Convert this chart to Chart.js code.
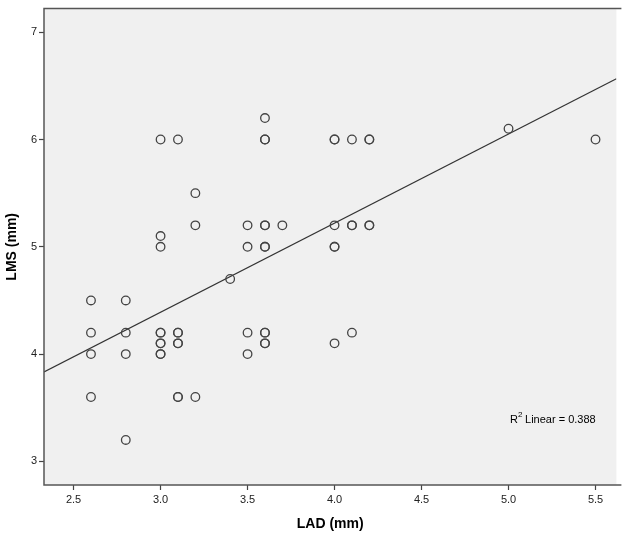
<!DOCTYPE html>
<html>
<head>
<meta charset="utf-8">
<script src="https://cdn.jsdelivr.net/npm/chart.js@4"></script>
<style>
  html, body { margin: 0; padding: 0; background: #fff; }
  canvas { display: block; }
</style>
</head>
<body>
<canvas id="grafico" width="622" height="537"></canvas>
<script>
// Dados (LAD x LMS)
const ladValores = [
  2.6, 2.6, 2.6, 2.6,
  2.8, 2.8, 2.8, 2.8,
  3.0, 3.0, 3.0, 3.0, 3.0, 3.0, 3.0, 3.0, 3.0,
  3.1, 3.1, 3.1, 3.1, 3.1, 3.1, 3.1,
  3.2, 3.2, 3.2,
  3.4,
  3.5, 3.5, 3.5, 3.5,
  3.6, 3.6, 3.6, 3.6, 3.6, 3.6, 3.6, 3.6, 3.6, 3.6, 3.6,
  3.7,
  4.0, 4.0, 4.0, 4.0, 4.0, 4.0,
  4.1, 4.1, 4.1, 4.1,
  4.2, 4.2, 4.2, 4.2,
  5.0,
  5.5
];
const lmsValores = [
  4.5, 4.2, 4.0, 3.6,
  4.5, 4.2, 4.0, 3.2,
  6.0, 5.1, 5.0, 4.2, 4.2, 4.1, 4.1, 4.0, 4.0,
  6.0, 4.2, 4.2, 4.1, 4.1, 3.6, 3.6,
  5.5, 5.2, 3.6,
  4.7,
  5.2, 5.0, 4.2, 4.0,
  6.2, 6.0, 6.0, 5.2, 5.2, 5.0, 5.0, 4.2, 4.2, 4.1, 4.1,
  5.2,
  6.0, 6.0, 5.2, 5.0, 5.0, 4.1,
  6.0, 5.2, 5.2, 4.2,
  6.0, 6.0, 5.2, 5.2,
  6.1,
  6.0
];
const ticksX = [2.5, 3.0, 3.5, 4.0, 4.5, 5.0, 5.5];
const ticksY = [3, 4, 5, 6, 7];
const textoR2 = 'Linear = 0.388';

const pontos = ladValores.map((x, i) => ({ x: x, y: lmsValores[i] }));

// Reta de regressão por mínimos quadrados
const n = pontos.length;
const mx = ladValores.reduce((a, b) => a + b, 0) / n;
const my = lmsValores.reduce((a, b) => a + b, 0) / n;
let sxy = 0, sxx = 0;
pontos.forEach(p => { sxy += (p.x - mx) * (p.y - my); sxx += (p.x - mx) * (p.x - mx); });
const incl = sxy / sxx;
const inter = my - incl * mx;
const xMin = 2.33, xMax = 5.62;
const reta = [{ x: xMin, y: inter + incl * xMin }, { x: xMax, y: inter + incl * xMax }];

// Fundo cinza da área do gráfico, moldura e texto do R²
const pluginFundo = {
  id: 'fundo',
  beforeDraw(chart) {
    const { ctx, chartArea: a } = chart;
    ctx.save();
    ctx.fillStyle = '#f0f0f0';
    ctx.fillRect(a.left, a.top, a.right - a.left, a.bottom - a.top);
    ctx.restore();
  },
  afterDraw(chart) {
    const { ctx, chartArea: a } = chart;
    ctx.save();
    ctx.strokeStyle = '#555';
    ctx.lineWidth = 1.5;
    ctx.beginPath();
    ctx.moveTo(a.right + 5, a.top);
    ctx.lineTo(a.left, a.top);
    ctx.lineTo(a.left, a.bottom);
    ctx.lineTo(a.right + 5, a.bottom);
    ctx.stroke();
    ctx.fillStyle = '#000';
    ctx.font = '11px "Liberation Sans", Arial';
    ctx.textBaseline = 'alphabetic';
    ctx.fillText('R', 510, 423);
    ctx.font = '8px "Liberation Sans", Arial';
    ctx.fillText('2', 518, 417);
    ctx.font = '11px "Liberation Sans", Arial';
    ctx.fillText(' ' + textoR2, 522, 423);
    ctx.restore();
  }
};

new Chart(document.getElementById('grafico'), {
  type: 'scatter',
  data: {
    datasets: [
      {
        data: pontos,
        pointRadius: 4.3,
        pointHoverRadius: 4.3,
        pointBackgroundColor: 'rgba(0,0,0,0)',
        pointBorderColor: '#444',
        pointBorderWidth: 1.3
      },
      {
        type: 'line',
        data: reta,
        borderColor: '#333',
        borderWidth: 1.2,
        pointRadius: 0,
        fill: false
      }
    ]
  },
  options: {
    responsive: false,
    animation: false,
    layout: { padding: { top: 7, right: 0, left: 0, bottom: 0 } },
    plugins: { legend: { display: false }, tooltip: { enabled: false } },
    scales: {
      x: {
        type: 'linear',
        min: xMin, max: xMax,
        afterBuildTicks: s => { s.ticks = ticksX.map(v => ({ value: v })); },
        afterFit: s => { s.height = 52; },
        grid: { display: true, drawOnChartArea: false, drawTicks: true, tickLength: 5, tickColor: '#444', tickWidth: 1.2 },
        border: { display: false },
        ticks: { color: '#222', padding: 3, font: { family: '"Liberation Sans", Arial', size: 11 }, callback: v => v.toFixed(1) },
        title: { display: true, text: 'LAD (mm)', color: '#000', font: { family: '"Liberation Sans", Arial', size: 14, weight: 'bold' }, padding: { top: 2 } }
      },
      y: {
        min: 2.78, max: 7.22,
        afterBuildTicks: s => { s.ticks = ticksY.map(v => ({ value: v })); },
        afterFit: s => { s.width = 44; },
        grid: { display: true, drawOnChartArea: false, drawTicks: true, tickLength: 5, tickColor: '#444', tickWidth: 1.2 },
        border: { display: false },
        ticks: { color: '#222', padding: 2, font: { family: '"Liberation Sans", Arial', size: 11 } },
        title: { display: true, text: 'LMS (mm)', color: '#000', font: { family: '"Liberation Sans", Arial', size: 14, weight: 'bold' }, padding: { bottom: 0 } }
      }
    }
  },
  plugins: [pluginFundo]
});
</script>
</body>
</html>
